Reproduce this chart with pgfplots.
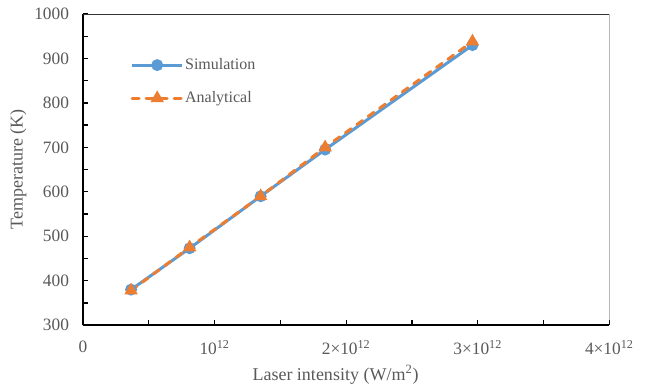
\documentclass[border=0pt]{standalone}
\usepackage{pgfplots}
\pgfplotsset{compat=1.18}
\usepackage{fontspec}
\setmainfont{Liberation Serif}
\definecolor{txt}{HTML}{595959}
\definecolor{sim}{HTML}{5B9BD5}
\definecolor{ana}{HTML}{ED7D31}
\begin{document}
\begin{tikzpicture}
\path[use as bounding box] (-62.25pt,-45pt) rectangle (437.75pt,243.75pt);
\begin{axis}[
  scale only axis,
  width=394.5pt, height=233.25pt,
  xmin=0, xmax=4, ymin=300, ymax=1000,
  axis x line*=bottom, axis y line*=left,
  axis line style={black, line width=1.5pt},
  xtick={0,1,2,3,4},
  xticklabels={0,{10\textsuperscript{12}},{2×10\textsuperscript{12}},{3×10\textsuperscript{12}},{4×10\textsuperscript{12}}},
  minor xtick={0.5,1.5,2.5,3.5},
  ytick={300,400,...,1000},
  minor ytick={350,450,...,950},
  tick style={black, line width=1pt},
  major tick length=3.5pt, minor tick length=3.5pt,
  tick align=inside,
  ticklabel style={font=\fontsize{13}{15}\selectfont, text=txt},
  xticklabel style={yshift=-8pt},
  yticklabel style={xshift=-7pt},
  /pgf/number format/assume math mode=true,
  /pgf/number format/1000 sep={},
  xlabel={Laser intensity (W/m\textsuperscript{2})},
  ylabel={Temperature (K)},
  label style={font=\fontsize{13.5}{15}\selectfont, text=txt},
  xlabel style={yshift=-1pt, xshift=-8pt},
  ylabel style={yshift=-1pt},
  legend style={at={(axis description cs:0.09,0.862)}, anchor=north west, draw=none, fill=none,
    font=\fontsize{12}{14}\selectfont, text=txt, row sep=13pt, inner sep=0pt,
    nodes={inner sep=1pt}},
  legend cell align=left,
  legend image code/.code={\draw[mark repeat=2,mark phase=2] plot coordinates {(0cm,0cm)(0.66cm,0cm)(1.32cm,0cm)};},
]
\addplot[sim, line width=2.25pt, mark=*, mark size=3.3pt, mark options={solid, fill=sim}]
  coordinates {(0.365,380) (0.81,473) (1.35,590) (1.84,695) (2.96,930)};
\addlegendentry{Simulation}
\addplot[ana, line width=2.25pt, dash pattern=on 5.25pt off 5.25pt, line cap=round, mark=triangle*, mark size=3.6pt, mark options={solid, fill=ana}]
  coordinates {(0.365,378) (0.81,475) (1.35,590) (1.84,700) (2.96,938)};
\addlegendentry{Analytical}
\draw[black!80, line width=1.1pt] (rel axis cs:0,1) -- (rel axis cs:1,1) -- (rel axis cs:1,0);
\end{axis}
\end{tikzpicture}
\end{document}
